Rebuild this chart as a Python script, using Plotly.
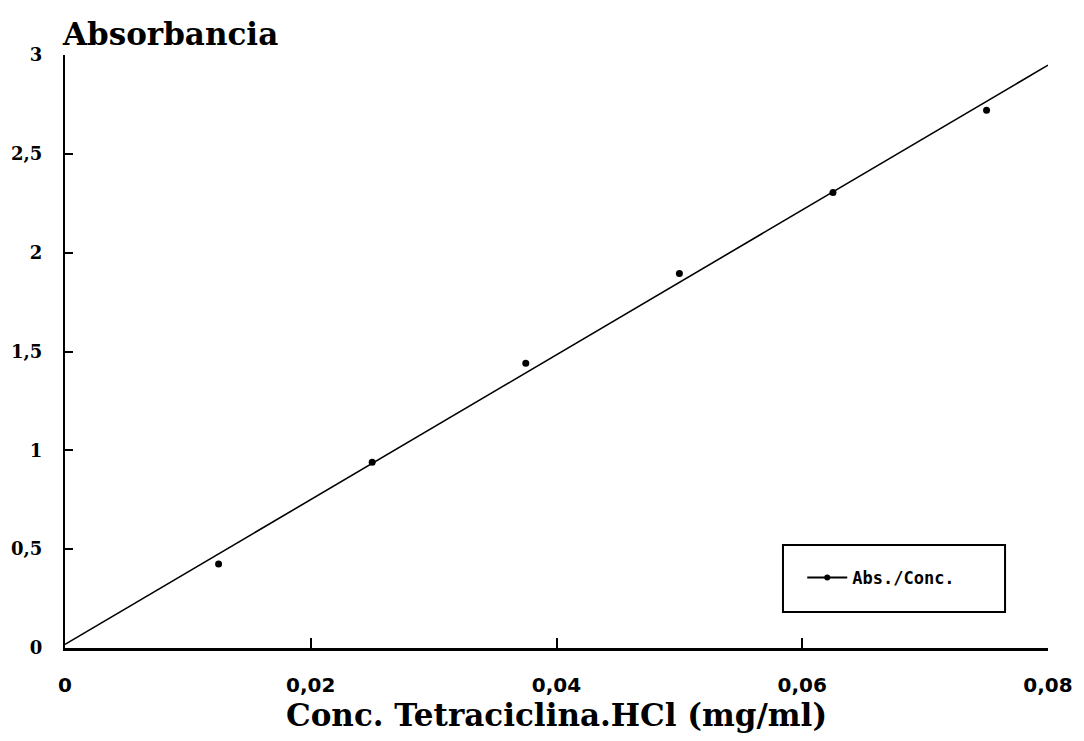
import numpy as np
import plotly.graph_objects as go

conc = [0.0125, 0.025, 0.0375, 0.05, 0.0625, 0.075]
absorb = [0.425, 0.94, 1.44, 1.895, 2.305, 2.72]

x_ticks = [0, 0.02, 0.04, 0.06, 0.08]
y_ticks = [0, 0.5, 1, 1.5, 2, 2.5, 3]

# least squares line through the points
slope, inter = np.polyfit(conc, absorb, 1)
line_x = [0, 0.08]
line_y = [inter + slope * v for v in line_x]

fig = go.Figure()

# fitted line
fig.add_trace(go.Scatter(
    x=line_x, y=line_y, mode='lines',
    line=dict(color='black', width=1.6),
    showlegend=False, hoverinfo='skip'
))

# data points
fig.add_trace(go.Scatter(
    x=conc, y=absorb, mode='markers',
    marker=dict(color='black', size=7, symbol='circle'),
    showlegend=False
))

# legend entry only
fig.add_trace(go.Scatter(
    x=[None], y=[None], mode='lines+markers',
    name='Abs./Conc.',
    line=dict(color='black', width=2),
    marker=dict(color='black', size=6)
))

# page body has an 8px margin, so the figure is a bit smaller than the window
fig.update_layout(
    width=1068, height=725,
    margin=dict(l=57, r=28, t=47, b=85),
    paper_bgcolor='white', plot_bgcolor='white',
    separators=', ',
    showlegend=True,
    legend=dict(
        x=0.75, y=0.118, xanchor='left', yanchor='middle',
        bgcolor='rgba(0,0,0,0)', borderwidth=0,
        itemwidth=40,
        font=dict(family='DejaVu Sans Mono', size=17, color='black', weight='bold')
    ),
    xaxis=dict(
        range=[0, 0.08], tickvals=x_ticks, automargin=False,
        showline=True, linecolor='black', linewidth=3,
        ticks='inside', ticklen=10, tickwidth=1.5, tickcolor='black',
        showgrid=False, zeroline=False,
        ticklabelstandoff=17,
        tickfont=dict(family='DejaVu Sans', size=20, color='black', weight='bold')
    ),
    yaxis=dict(
        range=[0, 3], tickvals=y_ticks, automargin=False,
        showline=True, linecolor='black', linewidth=2,
        ticks='inside', ticklen=8, tickwidth=1.5, tickcolor='black',
        showgrid=False, zeroline=False,
        ticklabelstandoff=17,
        tickfont=dict(family='DejaVu Serif', size=18, color='black', weight='bold')
    ),
    shapes=[dict(
        type='rect', xref='paper', yref='paper',
        x0=0.7304, x1=0.9563, y0=0.0607, y1=0.1737,
        line=dict(color='black', width=2), fillcolor='rgba(0,0,0,0)'
    )],
    annotations=[
        dict(text='Absorbancia', xref='paper', yref='paper',
             x=-0.005, y=1.035, xanchor='left', yanchor='middle',
             showarrow=False,
             font=dict(family='DejaVu Serif', size=31, color='black', weight='bold')),
        dict(text='Conc. Tetraciclina.HCl (mg/ml)', xref='paper', yref='paper',
             x=0.5, y=-0.113, xanchor='center', yanchor='middle',
             showarrow=False,
             font=dict(family='DejaVu Serif', size=31, color='black', weight='bold')),
    ]
)

fig.write_html('out.html')
